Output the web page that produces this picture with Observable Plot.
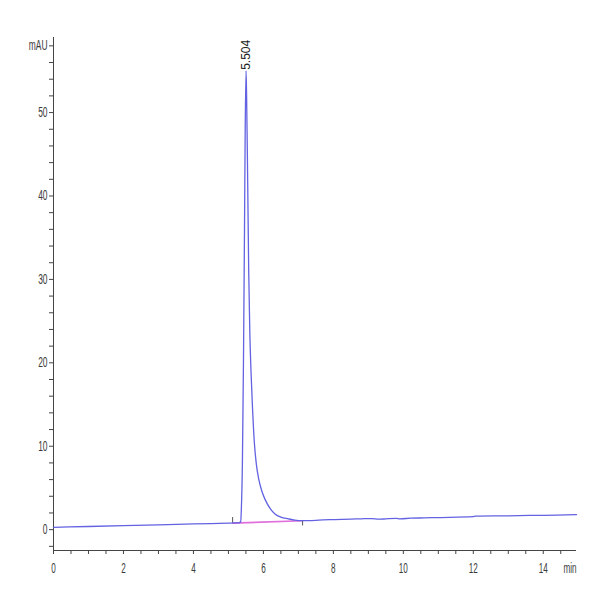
<!DOCTYPE html>
<html>
<head>
<meta charset="utf-8">
<script src="https://cdn.jsdelivr.net/npm/d3@7"></script>
<script src="https://cdn.jsdelivr.net/npm/@observablehq/plot@0.6"></script>
<style>
  html, body { margin: 0; padding: 0; background: #fff; }
  #chart svg { display: block; }
</style>
</head>
<body>
<div id="chart"></div>
<script>
// Chromatogram signal (retention time in min, absorbance in mAU)
const times = [0, 1, 2, 3, 4, 5, 5.2, 5.30, 5.35, 5.37, 5.40, 5.43, 5.46, 5.48, 5.504,
  5.52, 5.55, 5.58, 5.61, 5.65, 5.69, 5.74, 5.8, 5.87, 5.95, 6.05, 6.2, 6.34, 6.5, 6.71,
  6.9, 7.1, 7.5, 7.9, 8.5, 8.8, 9.1, 9.3, 9.5, 9.8, 9.9, 10.2, 10.6, 11, 12, 12.05,
  13, 13.6, 14, 14.95];
const signal = [0.28, 0.38, 0.48, 0.58, 0.68, 0.78, 0.80, 0.82, 0.95, 2.5, 8, 20, 36, 48, 55,
  52, 42, 31, 24, 18.5, 14.5, 10.5, 7.8, 6.0, 4.7, 3.6, 2.5, 1.85, 1.5, 1.3,
  1.15, 1.08, 1.12, 1.2, 1.26, 1.3, 1.33, 1.25, 1.3, 1.36, 1.3, 1.37, 1.41, 1.45, 1.55, 1.61,
  1.66, 1.71, 1.72, 1.8];

// Integration baseline (pink) and start/end markers
const baseTimes = [5.12, 7.12];
const baseValues = [0.78, 1.07];
const markerTimes = [5.12, 7.12];
const markerFrom = [0.78, 1.07];
const markerTo = [1.45, 0.45];

// Peak annotation
const peakTimes = [5.504];
const peakHeights = [55];
const peakLabels = ["5.504"];

// Axes
const xDomain = [0, 14.95];
const yDomain = [-2.5, 59];
const xTicks = d3.range(0, 15, 0.5);
const yTicks = d3.range(-2, 59, 2);
const xUnit = "min";
const yUnit = "mAU";

const trace = times.map((t, i) => ({t, v: signal[i]}));
const base = baseTimes.map((t, i) => ({t, v: baseValues[i]}));
const markers = markerTimes.map((t, i) => ({t, a: markerFrom[i], b: markerTo[i]}));
const peaks = peakTimes.map((t, i) => ({t, v: peakHeights[i], label: peakLabels[i]}));

const font = "'Liberation Sans', Arial, sans-serif";

const chart = Plot.plot({
  width: 600,
  height: 600,
  marginLeft: 53,
  marginRight: 24,
  marginTop: 37,
  marginBottom: 50,
  style: {background: "#fff", fontFamily: font, fontSize: "14px", color: "#3a3a3a"},
  x: {domain: xDomain},
  y: {domain: yDomain},
  marks: [
    Plot.ruleX([xDomain[0]], {stroke: "#444", strokeWidth: 1}),
    Plot.ruleY([yDomain[0]], {stroke: "#444", strokeWidth: 1}),
    Plot.axisX({
      ticks: xTicks,
      tickSize: 4,
      tickPadding: 9,
      stroke: "#444",
      tickFormat: d => (Math.abs(d % 2) < 1e-9 ? d3.format("d")(d) : ""),
      label: null
    }),
    Plot.text([xUnit], {
      frameAnchor: "bottom-right", textAnchor: "end", lineAnchor: "top",
      dy: 13, fontSize: 14, fill: "#3a3a3a", className: "unit-label"
    }),
    Plot.axisY({
      ticks: yTicks,
      tickSize: 4,
      tickPadding: 2,
      stroke: "#444",
      tickFormat: d => (d === 58 ? yUnit : d >= 0 && d % 10 === 0 ? d3.format("d")(d) : ""),
      label: null
    }),
    Plot.line(base, {x: "t", y: "v", stroke: "#e070dc", strokeWidth: 1.6}),
    Plot.ruleX(markers, {x: "t", y1: "a", y2: "b", stroke: "#555", strokeWidth: 1}),
    Plot.line(trace, {x: "t", y: "v", stroke: "#6262e2", strokeWidth: 1.3, curve: "monotone-x"}),
    Plot.text(peaks, {
      x: "t", y: "v", text: "label",
      rotate: -90, textAnchor: "start", lineAnchor: "middle",
      dy: -1, dx: 0,
      fontSize: 12, fill: "#222"
    })
  ]
});

document.getElementById("chart").appendChild(chart);

// Condensed lettering like the instrument's export (horizontal squeeze only)
function squeeze(sel, k) {
  chart.querySelectorAll(sel).forEach(t => {
    const w = t.getComputedTextLength();
    if (w > 0) {
      t.setAttribute("textLength", (w * k).toFixed(2));
      t.setAttribute("lengthAdjust", "spacingAndGlyphs");
    }
  });
}
squeeze('g[aria-label="x-axis tick label"] text', 0.58);
squeeze('g[aria-label="y-axis tick label"] text', 0.6);
squeeze('g.unit-label text', 0.58);
</script>
</body>
</html>
